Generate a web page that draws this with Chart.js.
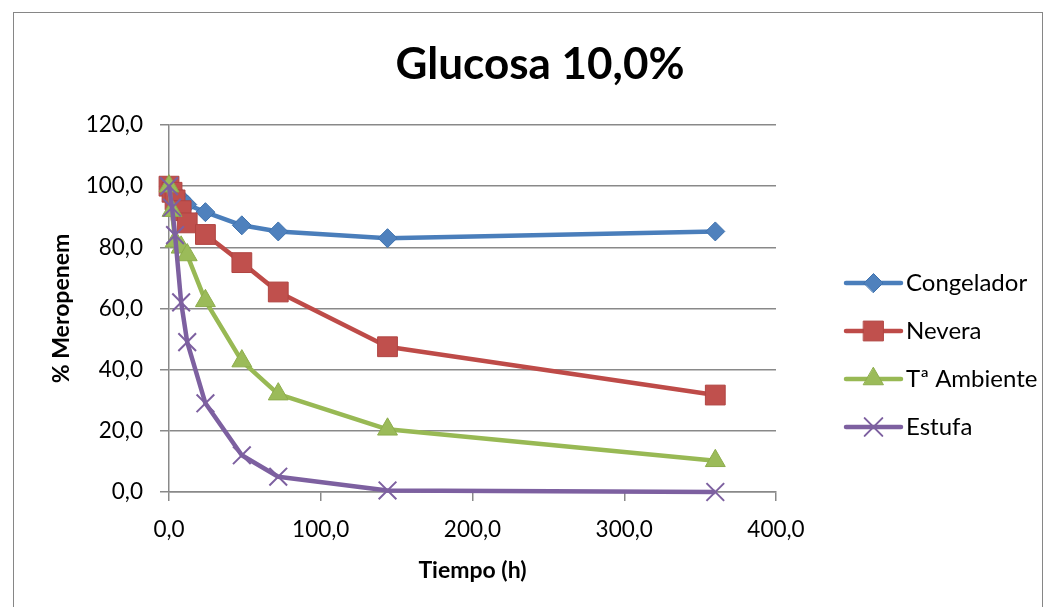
<!DOCTYPE html>
<html>
<head>
<meta charset="utf-8">
<script src="https://cdn.jsdelivr.net/npm/chart.js@4.4.1/dist/chart.umd.min.js"></script>
<style>
  html, body { margin: 0; padding: 0; background: #fff; }
  #wrap { position: relative; width: 1055px; height: 607px; overflow: hidden; }
  #marco { position: absolute; left: 13px; top: 12px; width: 1030px; height: 640px;
           border: 1px solid #868686; box-sizing: border-box; }
  #grafico { position: absolute; left: 0; top: 0; }
</style>
</head>
<body>
<div id="wrap">
  <div id="marco"></div>
  <canvas id="grafico" width="1055" height="607"></canvas>
</div>
<script>
// Tiempo de muestreo (h)
const horas = [0, 2, 4, 8, 12, 24, 48, 72, 144, 360];

// % de meropenem remanente en cada condición de conservación
const congelador = [100, 99.0, 98.0, 96.0, 94.0, 91.5, 87.2, 85.2, 83.0, 85.2];
const nevera     = [100, 98.0, 95.5, 92.0, 88.0, 84.2, 75.0, 65.4, 47.5, 31.7];
const ambiente   = [100, 92.0, 82.0, 80.0, 77.5, 62.5, 42.8, 32.0, 20.5, 10.2];
const estufa     = [100, 93.0, 84.0, 62.0, 49.0, 29.0, 12.0, 5.0, 0.5, 0.0];

const etiquetas = ['Congelador', 'Nevera', 'Tª Ambiente', 'Estufa'];
const titulo = 'Glucosa 10,0%';
const tituloX = 'Tiempo (h)';
const tituloY = '% Meropenem';

const FUENTE = 'Lato, "Open Sans", "DejaVu Sans", sans-serif';
Chart.defaults.font.family = FUENTE;
Chart.defaults.color = '#000';

const GRIS = '#898989';
const coma = v => Number(v).toFixed(1).replace('.', ',');
const puntos = vals => horas.map((h, i) => ({ x: h, y: vals[i] }));

const estilos = [
  { linea: '#4A7EBB', relleno: '#4F81BD', borde: '#3F72AE', forma: 'rectRot',  radio: 9.5 },
  { linea: '#BE4B48', relleno: '#C0504D', borde: '#B04542', forma: 'rect',     radio: 14 },
  { linea: '#98B954', relleno: '#9BBB59', borde: '#8DAD4C', forma: 'triangle', radio: 11.5 },
  { linea: '#7D60A0', relleno: '#8064A2', borde: '#7D60A0', forma: 'crossRot', radio: 12.5 }
];
const series = [congelador, nevera, ambiente, estufa];

const datasets = series.map((vals, i) => {
  const e = estilos[i];
  return {
    label: etiquetas[i],
    data: puntos(vals),
    borderColor: e.linea,
    borderWidth: 4.5,
    backgroundColor: e.relleno,
    pointStyle: e.forma,
    pointRadius: e.radio,
    pointBackgroundColor: e.relleno,
    pointBorderColor: e.borde,
    pointBorderWidth: e.forma === 'crossRot' ? 2 : 1,
    tension: 0,
    borderJoinStyle: 'round',
    clip: false,
    order: 4 - i
  };
});

// Leyenda con trazo + marcador a la derecha del área de trazado
const leyenda = {
  id: 'leyenda',
  afterDraw(chart) {
    const ctx = chart.ctx;
    const x0 = 846, x1 = 901, xm = 873.5, xt = 906, y0 = 283, paso = 48;
    chart.data.datasets.forEach((ds, i) => {
      const y = y0 + i * paso;
      ctx.save();
      ctx.strokeStyle = ds.borderColor;
      ctx.lineWidth = 4.5;
      ctx.lineCap = 'round';
      ctx.beginPath();
      ctx.moveTo(x0, y);
      ctx.lineTo(x1, y);
      ctx.stroke();
      ctx.fillStyle = ds.pointBackgroundColor;
      ctx.strokeStyle = ds.pointBorderColor;
      ctx.lineWidth = ds.pointBorderWidth;
      Chart.helpers.drawPoint(ctx, {
        pointStyle: ds.pointStyle,
        radius: ds.pointRadius,
        rotation: 0,
        borderWidth: ds.pointBorderWidth
      }, xm, y);
      ctx.fillStyle = '#000';
      ctx.font = '24px ' + FUENTE;
      ctx.textAlign = 'left';
      ctx.textBaseline = 'middle';
      ctx.fillText(ds.label, xt, y);
      ctx.restore();
    });
  }
};

new Chart(document.getElementById('grafico'), {
  type: 'line',
  data: { datasets },
  options: {
    responsive: false,
    animation: false,
    events: [],
    layout: { padding: { left: 25, right: 0, top: 0, bottom: 0 } },
    scales: {
      x: {
        type: 'linear', min: 0, max: 400,
        ticks: { stepSize: 100, padding: 15, font: { size: 22.5 }, color: '#000', callback: coma },
        grid: { drawOnChartArea: false, drawTicks: true, tickLength: 9, color: GRIS, lineWidth: 1.5 },
        border: { display: true, color: GRIS, width: 1.5 },
        title: { display: true, text: tituloX, font: { size: 23, weight: 'bold' }, color: '#000',
                 padding: { top: 0, bottom: 23 } },
        afterFit(s) { s.height = 115; }
      },
      y: {
        type: 'linear', min: 0, max: 120,
        ticks: { stepSize: 20, padding: 17, font: { size: 22.5 }, color: '#000', callback: coma },
        grid: { drawOnChartArea: true, drawTicks: true, tickLength: 9, color: GRIS, lineWidth: 1.5 },
        border: { display: true, color: GRIS, width: 1.5 },
        title: { display: true, text: tituloY, font: { size: 23, weight: 'bold' }, color: '#000',
                 padding: { top: 23, bottom: 0 } },
        afterFit(s) { s.width = 144; }
      },
      reserva: {
        type: 'linear', position: 'right', display: true,
        grid: { display: false, drawTicks: false },
        ticks: { display: false },
        border: { display: false },
        afterFit(s) { s.width = 279; }
      }
    },
    plugins: {
      legend: { display: false },
      tooltip: { enabled: false },
      title: {
        display: true, text: titulo, color: '#000',
        font: { size: 44, weight: 'bold' },
        padding: { top: 38.6, bottom: 33.6 }
      }
    }
  },
  plugins: [leyenda]
});
</script>
</body>
</html>
